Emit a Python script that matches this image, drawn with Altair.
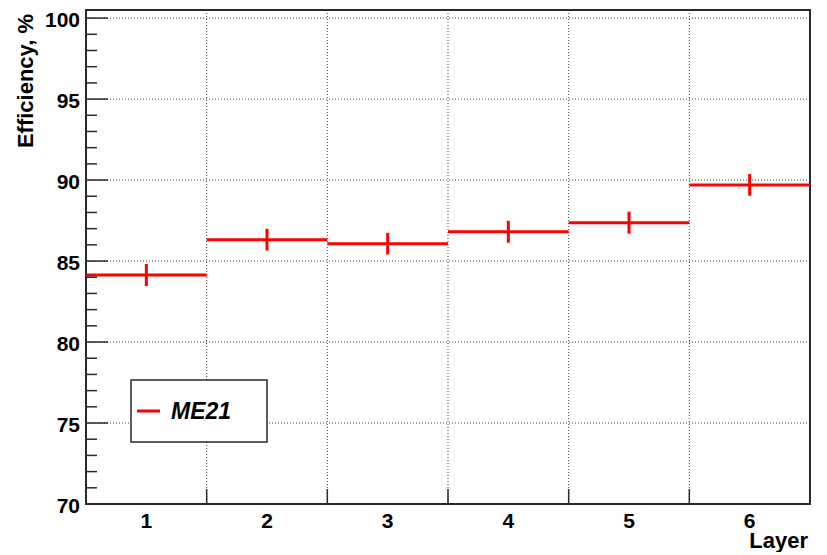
import altair as alt
import pandas as pd

# ---- data ----
layers = [1, 2, 3, 4, 5, 6]
efficiency = [84.14, 86.32, 86.07, 86.81, 87.37, 89.70]
errors = [0.68, 0.67, 0.67, 0.68, 0.68, 0.67]
series_name = ["ME21"]
x_labels = ["1", "2", "3", "4", "5", "6"]
y_major = [70, 75, 80, 85, 90, 95, 100]
y_labels = ["70", "75", "80", "85", "90", "95", "100"]
y_minor = [v for v in range(71, 100) if v % 5 != 0]
x_edges = [1.5, 2.5, 3.5, 4.5, 5.5]
y_grid = [75, 80, 85, 90, 95, 100]
x_title = ["Layer"]
y_title = ["Efficiency, %"]

FONT = "Liberation Sans"
RED = "#ff0000"
GRID = "#444444"
FRAME = "#2a2a2a"

df = pd.DataFrame({"layer": layers, "eff": efficiency, "err": errors})
df["x0"] = df["layer"] - 0.5
df["x1"] = df["layer"] + 0.5
df["lo"] = df["eff"] - df["err"]
df["hi"] = df["eff"] + df["err"]

xs = alt.Scale(domain=[0.5, 6.5], nice=False, zero=False)
ys = alt.Scale(domain=[70, 100.5], nice=False, zero=False)

# grid
vgrid = alt.Chart(pd.DataFrame({"x": x_edges})).mark_rule(
    color=GRID, strokeWidth=1, strokeDash=[1, 2]
).encode(x=alt.X("x:Q", scale=xs, axis=None))
hgrid = alt.Chart(pd.DataFrame({"y": y_grid})).mark_rule(
    color=GRID, strokeWidth=1, strokeDash=[1, 2]
).encode(y=alt.Y("y:Q", scale=ys, axis=None))

# inward ticks
ymaj = alt.Chart(pd.DataFrame({"y": y_major})).mark_rule(
    color=FRAME, strokeWidth=1.5
).encode(y=alt.Y("y:Q", scale=ys, axis=None), x=alt.value(0), x2=alt.value(22))
ymin = alt.Chart(pd.DataFrame({"y": y_minor})).mark_rule(
    color=FRAME, strokeWidth=1.5
).encode(y=alt.Y("y:Q", scale=ys, axis=None), x=alt.value(0), x2=alt.value(11))
xtk = alt.Chart(pd.DataFrame({"x": x_edges})).mark_rule(
    color=FRAME, strokeWidth=1.5
).encode(x=alt.X("x:Q", scale=xs, axis=None), y=alt.value(479), y2=alt.value(494))

# tick labels as text marks
xlab = alt.Chart(pd.DataFrame({"x": layers, "t": x_labels})).mark_text(
    align="center", baseline="top", font=FONT, fontSize=21, fontWeight="bold",
    color="black"
).encode(x=alt.X("x:Q", scale=xs, axis=None), y=alt.value(500.5), text="t:N")
ylab = alt.Chart(pd.DataFrame({"y": y_major, "t": y_labels})).mark_text(
    align="right", baseline="alphabetic", dy=8.5, font=FONT, fontSize=21,
    fontWeight="bold", color="black"
).encode(y=alt.Y("y:Q", scale=ys, axis=None), x=alt.value(-6), text="t:N")
xttl = alt.Chart(pd.DataFrame({"t": x_title})).mark_text(
    align="right", baseline="alphabetic", font=FONT, fontSize=22,
    fontWeight="bold", color="black"
).encode(x=alt.value(722), y=alt.value(538), text="t:N")
yttl = alt.Chart(pd.DataFrame({"t": y_title})).mark_text(
    align="right", baseline="alphabetic", font=FONT, fontSize=22,
    fontWeight="bold", color="black", angle=270
).encode(x=alt.value(-53), y=alt.value(4), text="t:N")

# histogram segments and error bars
hist = alt.Chart(df).mark_rule(color=RED, strokeWidth=3).encode(
    x=alt.X("x0:Q", scale=xs, axis=None),
    x2="x1:Q",
    y=alt.Y("eff:Q", scale=ys, axis=None),
)
ebar = alt.Chart(df).mark_rule(color=RED, strokeWidth=3).encode(
    x=alt.X("layer:Q", scale=xs, axis=None),
    y=alt.Y("lo:Q", scale=ys, axis=None),
    y2="hi:Q",
)

# legend box
leg_df = pd.DataFrame({"name": series_name})
leg_box = alt.Chart(leg_df).mark_rect(
    fill="white", stroke=FRAME, strokeWidth=1.5
).encode(x=alt.value(45), x2=alt.value(181), y=alt.value(370), y2=alt.value(432))
leg_line = alt.Chart(leg_df).mark_rule(color=RED, strokeWidth=3).encode(
    x=alt.value(51), x2=alt.value(74), y=alt.value(401)
)
leg_text = alt.Chart(leg_df).mark_text(
    align="left", baseline="alphabetic", font=FONT, fontSize=23,
    fontWeight="bold", fontStyle="italic", color="black"
).encode(x=alt.value(85), y=alt.value(409), text="name:N")

chart = alt.layer(
    vgrid, hgrid, hist, ebar, ymaj, ymin, xtk, xlab, ylab, xttl, yttl,
    leg_box, leg_line, leg_text
).properties(
    width=724, height=494,
    autosize=alt.AutoSizeParams(type="none"),
    padding={"left": 78, "top": 2, "right": 9, "bottom": 48},
    background="white",
).configure_view(stroke=FRAME, strokeWidth=2)

chart.save("out.html", embed_options={"renderer": "svg", "actions": False})
